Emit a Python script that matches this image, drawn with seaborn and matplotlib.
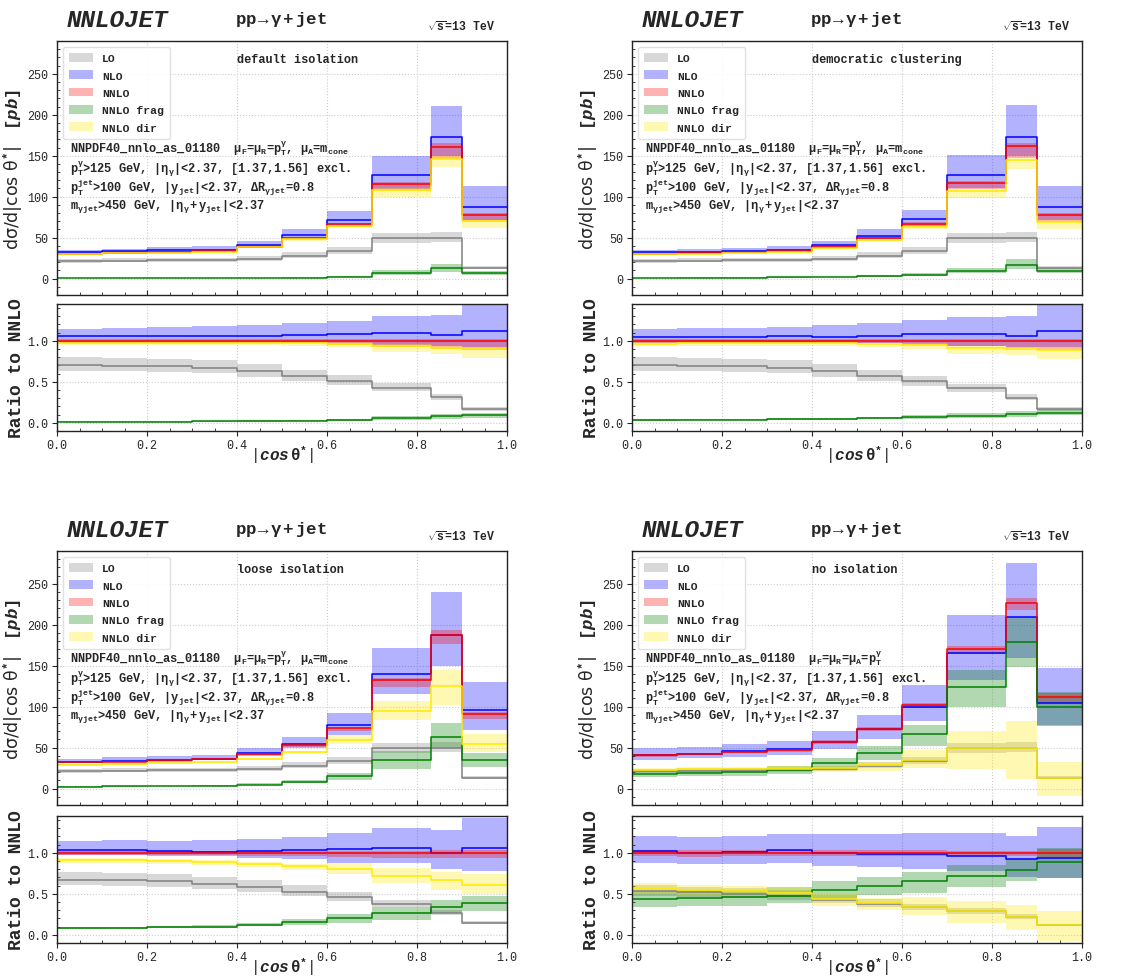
import numpy as np
import matplotlib
matplotlib.use('Agg')
import matplotlib.pyplot as plt
import seaborn as sns
from matplotlib.patches import Patch
from matplotlib.ticker import MultipleLocator

# bins in |cos theta*|
edges = [0.0, 0.1, 0.2, 0.3, 0.4, 0.5, 0.6, 0.7, 0.83, 0.9, 1.0]

# LO is the same in all four setups
lo_c = [21.5, 22.0, 22.5, 22.5, 24.5, 28.0, 34.0, 49.0, 50.0, 13.0]
lo_dn = [19.3, 19.8, 20.2, 20.2, 22.0, 25.0, 30.5, 44.0, 44.5, 11.5]
lo_up = [24.5, 25.0, 25.5, 25.5, 28.0, 32.0, 38.5, 55.5, 57.0, 15.0]

# default isolation
d_nlo_c = [32.3, 33.4, 34.5, 35.5, 41.3, 53.0, 71.8, 126.5, 172.5, 87.0]
d_nlo_dn = [29.6, 30.6, 31.5, 32.5, 37.8, 48.0, 64.0, 109.0, 150.0, 72.0]
d_nlo_up = [35.0, 36.5, 38.0, 39.5, 46.5, 60.0, 83.0, 150.0, 211.0, 113.0]
d_nnlo_c = [30.5, 31.5, 32.5, 33.5, 39.0, 49.5, 66.5, 115.0, 161.0, 78.0]
d_nnlo_dn = [29.6, 30.5, 31.5, 32.5, 37.8, 48.0, 63.5, 107.0, 146.0, 69.0]
d_nnlo_up = [31.1, 32.1, 33.2, 34.2, 39.8, 50.5, 68.0, 117.5, 165.0, 80.0]
d_frag_c = [0.4, 0.45, 0.5, 0.6, 0.85, 1.3, 2.4, 6.5, 12.5, 7.0]
d_frag_dn = [0.3, 0.35, 0.4, 0.45, 0.6, 1.0, 1.8, 4.5, 8.0, 5.0]
d_frag_up = [0.6, 0.65, 0.7, 0.8, 1.1, 1.8, 3.3, 10.0, 18.0, 9.5]
d_dir_c = [29.8, 30.8, 31.8, 32.8, 38.2, 48.2, 64.2, 108.0, 146.5, 70.0]
d_dir_dn = [28.9, 29.9, 30.9, 31.8, 37.0, 46.5, 61.5, 99.0, 136.0, 62.0]
d_dir_up = [30.3, 31.3, 32.3, 33.3, 38.8, 49.0, 65.5, 110.0, 150.0, 72.0]

# democratic clustering
c_nlo_c = [32.0, 33.0, 34.2, 35.3, 41.0, 52.5, 72.5, 127.0, 172.5, 87.0]
c_nlo_dn = [29.6, 30.6, 31.5, 32.5, 37.8, 48.0, 64.5, 110.0, 150.0, 72.0]
c_nlo_up = [35.0, 36.3, 37.8, 39.3, 46.5, 60.0, 84.0, 151.0, 212.0, 113.0]
c_nnlo_c = [30.5, 31.5, 32.5, 33.5, 39.0, 49.5, 67.0, 117.0, 162.0, 78.0]
c_nnlo_dn = [29.6, 30.5, 31.5, 32.5, 37.8, 48.0, 64.0, 109.0, 147.0, 69.0]
c_nnlo_up = [31.1, 32.1, 33.2, 34.2, 39.8, 50.5, 68.5, 119.5, 166.0, 80.0]
c_frag_c = [1.0, 1.1, 1.2, 1.4, 1.9, 2.8, 4.5, 9.5, 17.0, 9.5]
c_frag_dn = [0.8, 0.9, 1.0, 1.1, 1.4, 2.1, 3.3, 7.0, 11.5, 7.0]
c_frag_up = [1.3, 1.4, 1.5, 1.8, 2.5, 3.8, 6.3, 13.5, 24.0, 13.0]
c_dir_c = [29.5, 30.5, 31.5, 32.5, 37.8, 47.5, 63.5, 107.0, 145.0, 69.0]
c_dir_dn = [28.5, 29.5, 30.4, 31.4, 36.5, 45.8, 60.5, 98.0, 134.0, 61.0]
c_dir_up = [30.1, 31.1, 32.1, 33.1, 38.5, 48.5, 65.0, 109.0, 149.0, 71.0]

# loose isolation
l_nlo_c = [33.0, 34.2, 35.4, 36.6, 43.2, 54.6, 77.4, 139.5, 187.0, 96.0]
l_nlo_dn = [31.0, 32.0, 33.0, 34.5, 39.5, 49.0, 65.0, 115.0, 150.0, 71.0]
l_nlo_up = [36.5, 38.0, 39.5, 41.5, 49.0, 63.5, 92.0, 172.0, 240.0, 130.0]
l_nnlo_c = [32.0, 33.0, 34.5, 36.0, 42.0, 53.0, 74.0, 132.0, 188.0, 91.0]
l_nnlo_dn = [31.0, 32.0, 33.5, 35.0, 40.5, 51.0, 70.5, 124.0, 176.0, 85.0]
l_nnlo_up = [32.7, 33.7, 35.2, 36.8, 43.0, 54.2, 75.5, 134.5, 194.0, 94.0]
l_frag_c = [2.5, 2.8, 3.1, 3.6, 5.0, 8.0, 15.0, 35.5, 63.0, 35.5]
l_frag_dn = [2.1, 2.4, 2.7, 3.1, 4.3, 6.3, 10.5, 24.5, 49.0, 26.0]
l_frag_up = [3.0, 3.3, 3.6, 4.2, 6.3, 10.2, 19.0, 45.5, 80.0, 43.5]
l_dir_c = [29.2, 30.2, 31.0, 32.0, 36.5, 44.5, 59.0, 95.0, 125.0, 55.0]
l_dir_dn = [28.0, 29.0, 29.8, 30.7, 34.8, 42.0, 55.0, 83.5, 102.5, 45.0]
l_dir_up = [30.0, 31.0, 31.8, 32.8, 37.5, 46.0, 65.0, 107.5, 144.5, 67.0]

# no isolation
n_nlo_c = [41.5, 42.5, 45.5, 48.5, 56.7, 72.5, 100.0, 165.5, 209.0, 105.0]
n_nlo_dn = [35.5, 36.8, 38.8, 41.0, 48.0, 60.5, 82.5, 132.5, 160.0, 77.0]
n_nlo_up = [49.0, 50.5, 54.0, 58.0, 70.0, 90.0, 127.0, 212.0, 275.0, 147.0]
n_nnlo_c = [40.5, 42.5, 44.8, 47.0, 57.0, 73.3, 102.0, 171.0, 227.0, 112.0]
n_nnlo_dn = [38.8, 40.5, 43.0, 45.2, 55.0, 70.5, 98.0, 164.0, 218.0, 105.0]
n_nnlo_up = [41.8, 43.8, 46.2, 48.5, 59.0, 75.5, 105.0, 174.0, 233.0, 117.0]
n_frag_c = [17.5, 19.0, 20.5, 22.5, 31.5, 43.5, 66.5, 123.5, 179.0, 99.5]
n_frag_dn = [13.8, 14.8, 16.0, 18.3, 25.2, 35.4, 52.5, 99.3, 148.0, 78.0]
n_frag_up = [21.6, 23.2, 24.5, 27.3, 37.5, 51.7, 78.0, 145.0, 209.0, 118.0]
n_dir_c = [22.5, 23.5, 24.0, 24.0, 25.0, 28.5, 35.0, 49.5, 50.0, 13.0]
n_dir_dn = [20.0, 20.5, 21.0, 21.5, 20.0, 22.0, 25.0, 24.0, 12.0, -9.0]
n_dir_up = [25.5, 26.0, 26.5, 27.5, 28.5, 33.0, 47.0, 70.0, 83.0, 32.0]

series_names = ['LO', 'NLO', 'NNLO', 'NNLO frag', 'NNLO dir']
series_colors = ['gray', 'blue', 'red', 'green', '#ffea00']

panel_titles = ['default isolation', 'democratic clustering', 'loose isolation', 'no isolation']
scale_cone = r'$\mu_{F}$=$\mu_{R}$=$p_{T}^{\gamma}$, $\mu_{A}$=$m_{cone}$'
scale_all = r'$\mu_{F}$=$\mu_{R}$=$\mu_{A}$=$p_{T}^{\gamma}$'
panel_scales = [scale_cone, scale_cone, scale_cone, scale_all]

panels = [
    [(lo_c, lo_dn, lo_up), (d_nlo_c, d_nlo_dn, d_nlo_up), (d_nnlo_c, d_nnlo_dn, d_nnlo_up),
     (d_frag_c, d_frag_dn, d_frag_up), (d_dir_c, d_dir_dn, d_dir_up)],
    [(lo_c, lo_dn, lo_up), (c_nlo_c, c_nlo_dn, c_nlo_up), (c_nnlo_c, c_nnlo_dn, c_nnlo_up),
     (c_frag_c, c_frag_dn, c_frag_up), (c_dir_c, c_dir_dn, c_dir_up)],
    [(lo_c, lo_dn, lo_up), (l_nlo_c, l_nlo_dn, l_nlo_up), (l_nnlo_c, l_nnlo_dn, l_nnlo_up),
     (l_frag_c, l_frag_dn, l_frag_up), (l_dir_c, l_dir_dn, l_dir_up)],
    [(lo_c, lo_dn, lo_up), (n_nlo_c, n_nlo_dn, n_nlo_up), (n_nnlo_c, n_nnlo_dn, n_nnlo_up),
     (n_frag_c, n_frag_dn, n_frag_up), (n_dir_c, n_dir_dn, n_dir_up)],
]

sns.set_style('ticks')
plt.rcParams['font.family'] = ['Liberation Mono', 'DejaVu Sans']
plt.rcParams['mathtext.fontset'] = 'custom'
plt.rcParams['mathtext.rm'] = 'Liberation Mono:bold'
plt.rcParams['mathtext.it'] = 'Liberation Mono:italic:bold'
plt.rcParams['mathtext.bf'] = 'Liberation Mono:bold'
plt.rcParams['mathtext.default'] = 'rm'

W, H = 1142, 978
fig = plt.figure(figsize=(W / 100, H / 100), dpi=100)


def box(left, top, w, h):
    return [left / W, 1 - (top + h) / H, w / W, h / H]


def step(v):
    v = np.asarray(v, dtype=float)
    return np.append(v, v[-1])


x = np.array(edges)
lefts = [57, 632, 57, 632]
tops = [42, 42, 552, 552]
rtops = [305, 305, 817, 817]

for i, data in enumerate(panels):
    ax = fig.add_axes(box(lefts[i], tops[i], 450, 254))
    rax = fig.add_axes(box(lefts[i], rtops[i], 450, 127), sharex=ax)
    nnlo_ref = np.asarray(data[2][0], dtype=float)

    for (c, dn, up), col in zip(data, series_colors):
        ax.fill_between(x, step(dn), step(up), step='post', color=col, alpha=0.3, lw=0)
        sns.lineplot(x=x, y=step(c), ax=ax, color=col, lw=1.1, drawstyle='steps-post',
                     estimator=None, sort=False, legend=False)
        rax.fill_between(x, step(np.asarray(dn) / nnlo_ref), step(np.asarray(up) / nnlo_ref),
                         step='post', color=col, alpha=0.3, lw=0)
        sns.lineplot(x=x, y=step(np.asarray(c) / nnlo_ref), ax=rax, color=col, lw=1.1,
                     drawstyle='steps-post', estimator=None, sort=False, legend=False)

    ax.set_xlim(0, 1)
    ax.set_ylim(-20, 290)
    rax.set_ylim(-0.1, 1.45)
    ax.yaxis.set_major_locator(MultipleLocator(50))
    ax.yaxis.set_minor_locator(MultipleLocator(10))
    rax.yaxis.set_major_locator(MultipleLocator(0.5))
    rax.yaxis.set_minor_locator(MultipleLocator(0.1))
    rax.xaxis.set_major_locator(MultipleLocator(0.2))
    rax.xaxis.set_minor_locator(MultipleLocator(0.05))

    for a in (ax, rax):
        a.grid(True, which='major', ls=':', color='#cccccc', lw=0.8)
        a.tick_params(which='major', direction='out', length=3.5, width=0.8, labelsize=8.5, pad=2.5)
        a.tick_params(which='minor', direction='in', length=2, width=0.6)
        for s in a.spines.values():
            s.set_color('#222222')
            s.set_linewidth(1.0)
    ax.tick_params(axis='x', which='both', direction='in', labelbottom=False)

    ax.set_ylabel('dσ/d|cos θ$^{*}$|   $\\mathit{[pb]}$', fontfamily='DejaVu Sans', fontsize=12.5)
    ax.yaxis.set_label_coords(-0.072, 0.5)
    rax.set_ylabel('Ratio to NNLO', fontsize=13, fontweight='bold')
    rax.yaxis.set_label_coords(-0.072, 0.5)
    rax.set_xlabel(r'|$\mathit{cos}\,\theta^{*}$|', fontsize=11.5, va='center')
    rax.xaxis.set_label_coords(0.5, -0.185)

    handles = [Patch(facecolor=col, alpha=0.3, lw=0) for col in series_colors]
    ax.legend(handles, series_names, loc='upper left', prop={'weight': 'bold', 'size': 8.2},
              labelspacing=0.62, handlelength=2.1, handleheight=0.8, borderpad=0.55,
              framealpha=0.9, edgecolor='#dddddd', fancybox=True)

    ax.text(0.4, 0.93, panel_titles[i], transform=ax.transAxes, fontsize=8.6,
            fontweight='bold', va='center')
    ax.text(0.028, 0.58, 'NNPDF40_nnlo_as_01180  ' + panel_scales[i], transform=ax.transAxes,
            fontsize=8.6, fontweight='bold', va='center')
    ax.text(0.028, 0.50, r'$p_{T}^{\gamma}$>125 GeV, |$\eta_{\gamma}$|<2.37, [1.37,1.56] excl.',
            transform=ax.transAxes, fontsize=8.6, fontweight='bold', va='center')
    ax.text(0.028, 0.425, r'$p_{T}^{jet}$>100 GeV, |$y_{jet}$|<2.37, $\Delta R_{\gamma jet}$=0.8',
            transform=ax.transAxes, fontsize=8.6, fontweight='bold', va='center')
    ax.text(0.028, 0.354, r'$m_{\gamma jet}$>450 GeV, |$\eta_{\gamma}+y_{jet}$|<2.37',
            transform=ax.transAxes, fontsize=8.6, fontweight='bold', va='center')

    ax.text(0.022, 1.084, 'NNLOJET', transform=ax.transAxes, fontsize=17.5,
            fontweight='bold', fontstyle='italic', va='center')
    ax.text(0.498, 1.09, r'pp$\rightarrow\gamma+$jet', transform=ax.transAxes, fontsize=12.5,
            fontweight='bold', ha='center', va='center')
    ax.text(0.973, 1.06, r'$\sqrt{s}$=13 TeV', transform=ax.transAxes, fontsize=8.3,
            fontweight='bold', ha='right', va='center')

fig.savefig('out.png', dpi=100)
